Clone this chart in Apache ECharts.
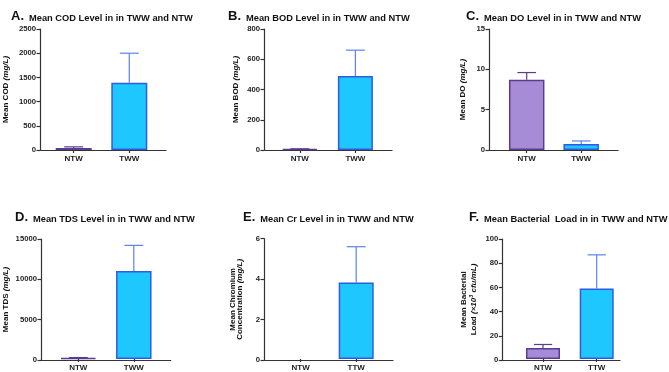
<!DOCTYPE html>
<html>
<head>
<meta charset="utf-8">
<script src="https://cdn.jsdelivr.net/npm/echarts@6/dist/echarts.min.js"></script>
<style>
  html, body { margin: 0; padding: 0; background: #fff; }
  #chart { width: 669px; height: 372px; }
</style>
</head>
<body>
<div id="chart"></div>
<script>
// groups on the x axis
const groups = ['NTW', 'TWW'];
const groupsTtw = ['NTW', 'TTW'];

// mean and SD for each panel (NTW, TWW)
const codMean = [40, 1390];
const codSd = [25, 610];
const bodMean = [5, 490];
const bodSd = [3, 170];
const doMean = [8.7, 0.75];
const doSd = [0.9, 0.37];
const tdsMean = [120, 11000];
const tdsSd = [60, 3200];
const crMean = [0, 3.82];
const crSd = [0, 1.78];
const bactMean = [9.1, 58.7];
const bactSd = [3, 28.1];

// y axes
const yMax = [2500, 800, 15, 15000, 6, 100];
const yStep = [500, 200, 5, 5000, 2, 20];

const panelLetters = ['A.', 'B.', 'C.', 'D.', 'E.', 'F.'];
const panelTitles = [
  'Mean COD Level in in TWW and NTW',
  'Mean BOD Level in in TWW and NTW',
  'Mean DO Level in in TWW and NTW',
  'Mean TDS Level in in TWW and NTW',
  'Mean Cr Level in in TWW and NTW',
  'Mean Bacterial  Load in in TWW and NTW'
];
const yNames = [
  'Mean COD {i|(mg/L)}',
  'Mean BOD {i|(mg/L)}',
  'Mean DO {i|(mg/L)}',
  'Mean TDS {i|(mg/L)}',
  'Mean Chromium\nConcentration {i|(mg/L)}',
  'Mean Bacterial\nLoad {i|(×10}{s|3}{i| cfu/mL)}'
];

const panels = [
  { cats: groups, mean: codMean, sd: codSd },
  { cats: groups, mean: bodMean, sd: bodSd },
  { cats: groups, mean: doMean, sd: doSd },
  { cats: groups, mean: tdsMean, sd: tdsSd },
  { cats: groupsTtw, mean: crMean, sd: crSd },
  { cats: groupsTtw, mean: bactMean, sd: bactSd }
];

// pixel layout of each panel
const layout = [
  { axL: 38, axR: 166, top: 29, bot: 150, c1: 73.7, band: 55.6, barW: 36, gap: 30, lh: 9, tx: 11, ty: 5 },
  { axL: 264, axR: 392, top: 29, bot: 150, c1: 299.8, band: 55.6, barW: 35, gap: 24, lh: 9, tx: 228, ty: 5 },
  { axL: 489, axR: 618, top: 29, bot: 150, c1: 526.7, band: 54.5, barW: 35.5, gap: 22, lh: 9, tx: 466, ty: 5 },
  { axL: 39.3, axR: 170.7, top: 239, bot: 360, c1: 78.3, band: 55.5, barW: 35.5, gap: 31, lh: 9, tx: 15, ty: 206 },
  { axL: 264, axR: 393, top: 238.7, bot: 360, c1: 300.6, band: 55.6, barW: 35, gap: 20, lh: 7.5, tx: 243, ty: 206 },
  { axL: 502.3, axR: 620, top: 239, bot: 360, c1: 543, band: 53.7, barW: 34, gap: 24, lh: 10, tx: 469, ty: 206 }
];

const font = "'Liberation Sans', Arial, sans-serif";
const fill = ['#a68bd6', '#1ec8ff'];
const edge = ['#5a3d8f', '#2e5be6'];
const whisker = ['#5a3d8f', '#5b83f0'];
const axisColor = '#333';

const grid = [], xAxis = [], yAxis = [], series = [], title = [];

panels.forEach((p, i) => {
  const L = layout[i];
  const h = L.bot - L.top;
  // frame grid: y axis + full x axis line
  grid.push({ left: L.axL, top: L.top, width: L.axR - L.axL, height: h });
  // bar grid
  grid.push({ left: L.c1 - L.band / 2, top: L.top, width: L.band * 2, height: h });

  xAxis.push({
    type: 'value', gridIndex: 2 * i, min: 0, max: 1,
    axisLine: { show: true, lineStyle: { color: axisColor, width: 1.2 } },
    axisTick: { show: false }, axisLabel: { show: false }, splitLine: { show: false }
  });
  yAxis.push({
    type: 'value', gridIndex: 2 * i, min: 0, max: yMax[i], interval: yStep[i],
    axisLine: { show: true, lineStyle: { color: axisColor, width: 1.2 } },
    axisTick: { show: true, length: 3.5, lineStyle: { color: axisColor, width: 1.2 } },
    axisLabel: {
      margin: 4, color: '#222', fontSize: 7.7, fontWeight: 'bold', fontFamily: font,
      formatter: v => String(v)
    },
    splitLine: { show: false },
    name: yNames[i], nameLocation: 'middle', nameGap: L.gap,
    nameTextStyle: {
      color: '#111', fontSize: 8, fontWeight: 'bold', fontFamily: font, lineHeight: L.lh,
      rich: {
        i: { fontStyle: 'italic', fontSize: 8, fontWeight: 'bold', fontFamily: font, color: '#111', lineHeight: L.lh },
        s: { fontStyle: 'italic', fontSize: 5.5, fontWeight: 'bold', fontFamily: font, color: '#111', verticalAlign: 'top', lineHeight: L.lh }
      }
    }
  });

  xAxis.push({
    type: 'category', gridIndex: 2 * i + 1, data: p.cats,
    axisLine: { show: false },
    axisTick: { show: true, alignWithLabel: true, length: 3, lineStyle: { color: axisColor, width: 1.2 } },
    axisLabel: { margin: 5, color: '#222', fontSize: 8, fontWeight: 'bold', fontFamily: font }
  });
  yAxis.push({
    type: 'value', gridIndex: 2 * i + 1, min: 0, max: yMax[i], show: false
  });

  series.push({
    type: 'bar', xAxisIndex: 2 * i + 1, yAxisIndex: 2 * i + 1,
    barWidth: L.barW,
    data: p.mean.map((v, k) => ({
      value: v,
      itemStyle: { color: fill[k], borderColor: edge[k], borderWidth: v ? 1.5 : 0 }
    })),
    z: 2
  });

  series.push({
    type: 'custom', xAxisIndex: 2 * i + 1, yAxisIndex: 2 * i + 1, z: 3,
    data: p.mean.map((v, k) => [k, v, p.sd[k]]),
    encode: { x: 0, y: 1 },
    renderItem: (params, api) => {
      const k = api.value(0), m = api.value(1), s = api.value(2);
      if (!s) return;
      const a = api.coord([k, m]);
      const b = api.coord([k, m + s]);
      const hw = api.size([1, 0])[0] * 0.17;
      const style = { stroke: whisker[k], lineWidth: 1.2 };
      return {
        type: 'group',
        children: [
          { type: 'line', shape: { x1: a[0], y1: a[1], x2: b[0], y2: b[1] }, style },
          { type: 'line', shape: { x1: a[0] - hw, y1: b[1], x2: a[0] + hw, y2: b[1] }, style }
        ]
      };
    }
  });

  title.push({
    left: L.tx, top: L.ty, padding: 0,
    text: '{b|' + panelLetters[i] + '} {t|' + panelTitles[i] + '}',
    textStyle: {
      rich: {
        b: { fontSize: 13, fontWeight: 'bold', fontFamily: font, color: '#111', verticalAlign: 'bottom', lineHeight: 14 },
        t: { fontSize: 9.3, fontWeight: 'bold', fontFamily: font, color: '#111', verticalAlign: 'bottom', lineHeight: 14 }
      }
    }
  });
});

const chart = echarts.init(document.getElementById('chart'), null, { renderer: 'canvas' });
chart.setOption({
  backgroundColor: '#fff',
  animation: false,
  title, grid, xAxis, yAxis, series
});
</script>
</body>
</html>
